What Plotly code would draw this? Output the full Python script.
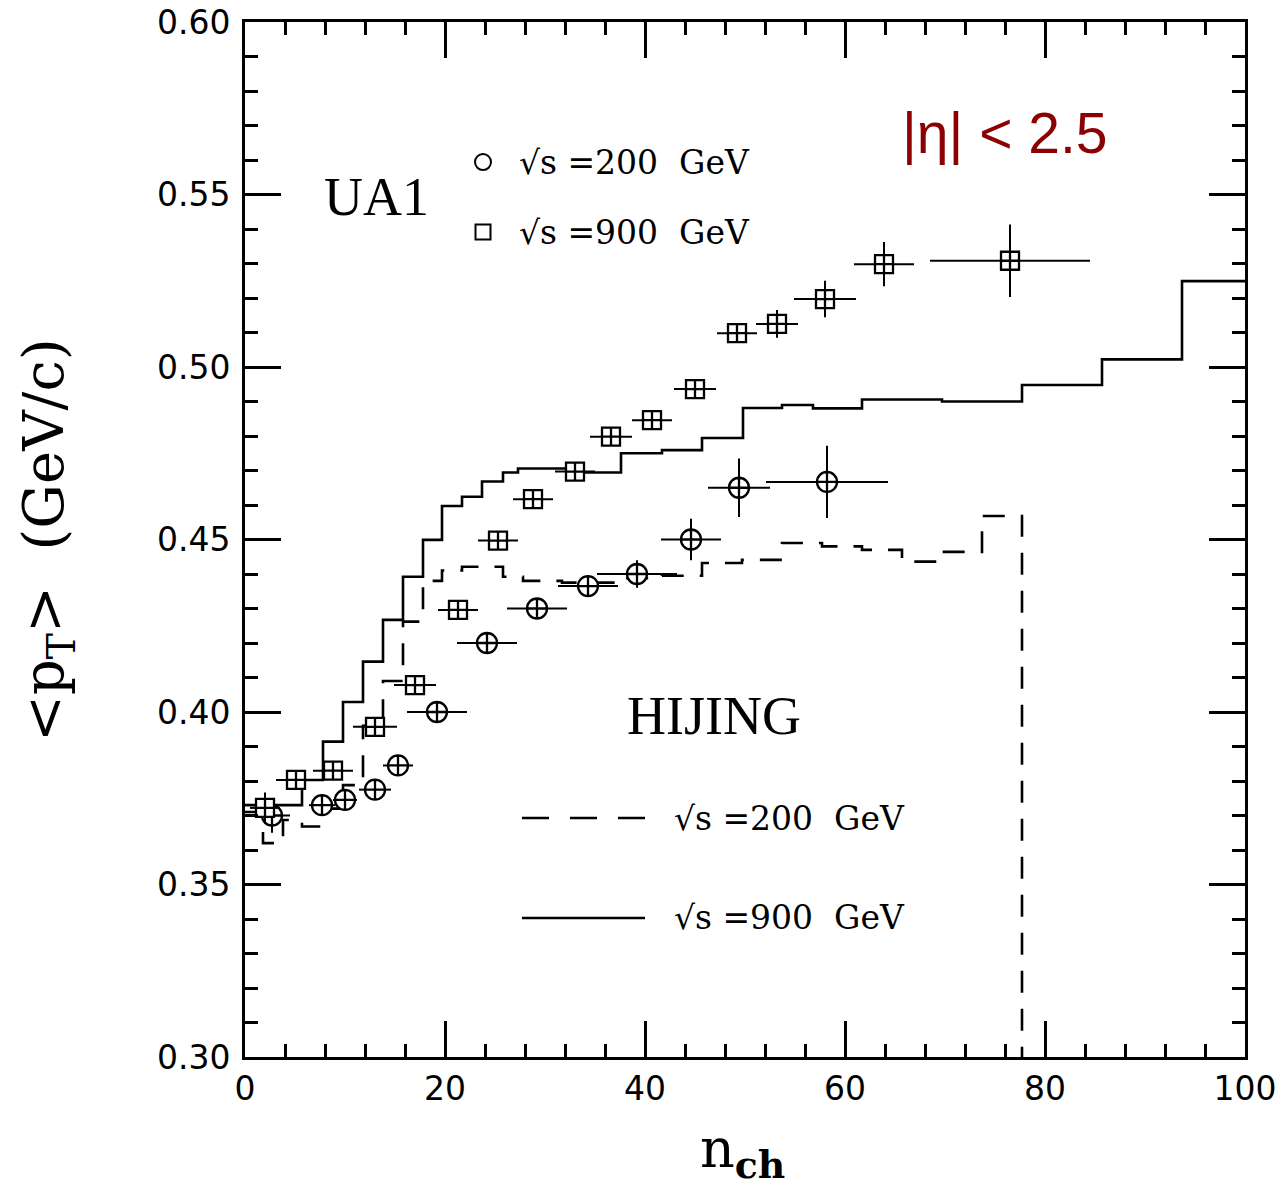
import plotly.graph_objects as go

# ---------------- data ----------------
# UA1, sqrt(s)=200 GeV (open circles)
ua1_200_n = [2.7, 7.7, 10.0, 13.0, 15.3, 19.2, 24.2, 29.2, 34.3, 39.2, 44.6, 49.4, 58.2]
ua1_200_pt = [0.370, 0.373, 0.3745, 0.3775, 0.3845, 0.400, 0.420, 0.430, 0.4365, 0.440, 0.450, 0.465, 0.4667]
ua1_200_nerr = [1.8, 1.3, 1.2, 1.6, 1.5, 3.0, 3.0, 3.0, 3.0, 4.0, 3.0, 3.1, 6.1]
ua1_200_pterr = [0.005, 0.002, 0.002, 0.002, 0.002, 0.002, 0.002, 0.002, 0.003, 0.004, 0.006, 0.0085, 0.0105]

# UA1, sqrt(s)=900 GeV (open squares)
ua1_900_n = [2.0, 5.1, 8.8, 13.0, 17.0, 21.3, 25.3, 28.8, 33.0, 36.6, 40.7, 45.0, 49.2, 53.2, 58.0, 63.9, 76.5]
ua1_900_pt = [0.3722, 0.3803, 0.3830, 0.3957, 0.4078, 0.4296, 0.4497, 0.4617, 0.4697, 0.4798, 0.4846,
              0.4936, 0.5098, 0.5125, 0.5197, 0.5298, 0.5308]
ua1_900_nerr = [1.5, 2.0, 2.0, 2.2, 2.1, 2.0, 2.0, 2.0, 2.0, 2.1, 2.0, 2.1, 2.0, 2.1, 3.1, 3.0, 8.0]
ua1_900_pterr = [0.0045, 0.002, 0.002, 0.002, 0.002, 0.002, 0.002, 0.002, 0.002, 0.002, 0.002,
                 0.002, 0.002, 0.004, 0.0053, 0.0064, 0.0105]

# HIJING histograms (bin edges and bin values)
hij_200_edges = [0, 1.8, 3.8, 5.7, 7.8, 9.8, 11.8, 13.8, 15.8, 17.8, 19.7, 21.7, 25.8, 27.8, 31.7,
                 37.7, 41.7, 45.7, 49.7, 53.7, 57.7, 61.7, 65.7, 69.7, 73.7, 77.7]
hij_200_vals = [0.371, 0.362, 0.3687, 0.3668, 0.372, 0.3788, 0.396, 0.409, 0.4262, 0.438, 0.441,
                0.4421, 0.4392, 0.438, 0.4375, 0.4388, 0.4395, 0.4432, 0.4441, 0.449, 0.448, 0.447,
                0.4436, 0.4464, 0.4568]

hij_900_edges = [0, 5.7, 7.8, 9.8, 11.8, 13.8, 15.8, 17.8, 19.7, 21.7, 23.7, 25.8, 27.3, 33.7, 37.6,
                 41.7, 45.7, 49.8, 53.7, 56.8, 61.7, 69.7, 77.7, 85.7, 93.7, 100]
hij_900_vals = [0.373, 0.3803, 0.3914, 0.4029, 0.4146, 0.4267, 0.4392, 0.4499, 0.4597, 0.4624,
                0.4668, 0.4694, 0.4706, 0.4694, 0.4750, 0.4759, 0.4794, 0.4881, 0.4890, 0.4880,
                0.4906, 0.4900, 0.4948, 0.5022, 0.5249]

x_range = [0, 100]
y_range = [0.30, 0.60]
x_ticks = [0, 20, 40, 60, 80, 100]
y_ticks = [0.30, 0.35, 0.40, 0.45, 0.50, 0.55, 0.60]

# ---------------- figure ----------------
fig = go.Figure()

# HIJING 200 GeV dashed histogram (drops to the axis floor at the last edge)
fig.add_trace(go.Scatter(
    x=hij_200_edges, y=hij_200_vals + [y_range[0]],
    mode="lines", line=dict(shape="hv", color="black", width=2.6, dash="22px,16px"),
    showlegend=False, hoverinfo="skip"))

# HIJING 900 GeV solid histogram
fig.add_trace(go.Scatter(
    x=hij_900_edges, y=hij_900_vals + [hij_900_vals[-1]],
    mode="lines", line=dict(shape="hv", color="black", width=2.6),
    showlegend=False, hoverinfo="skip"))

err_style = dict(type="data", color="black", thickness=2, width=0)

fig.add_trace(go.Scatter(
    x=ua1_200_n, y=ua1_200_pt, mode="markers",
    error_x=dict(array=ua1_200_nerr, **err_style),
    error_y=dict(array=ua1_200_pterr, **err_style),
    marker=dict(symbol="circle-cross", size=20, color="white",
                line=dict(color="black", width=2.3)),
    showlegend=False))

fig.add_trace(go.Scatter(
    x=ua1_900_n, y=ua1_900_pt, mode="markers",
    error_x=dict(array=ua1_900_nerr, **err_style),
    error_y=dict(array=ua1_900_pterr, **err_style),
    marker=dict(symbol="square-cross", size=18, color="white",
                line=dict(color="black", width=2.3)),
    showlegend=False))

tickfont = dict(family="DejaVu Sans", size=33, color="black")
axis_common = dict(
    showline=True, linecolor="black", linewidth=3, mirror="allticks",
    ticks="inside", ticklen=36, tickwidth=2.5, tickcolor="black",
    showgrid=False, zeroline=False, tickfont=tickfont, automargin=False,
)

fig.update_xaxes(range=x_range, tickvals=x_ticks, ticklabelstandoff=0,
                 minor=dict(dtick=4, ticks="inside", ticklen=13, tickwidth=2.5, tickcolor="black"),
                 **axis_common)
fig.update_yaxes(range=y_range, tickvals=y_ticks, tickformat=".2f", ticklabelstandoff=5,
                 minor=dict(dtick=0.01, ticks="inside", ticklen=13, tickwidth=2.5, tickcolor="black"),
                 **axis_common)

serif = "DejaVu Serif"
times = "Liberation Serif"

annotations = [
    dict(x=0.131, y=0.831, text="UA1", font=dict(family=times, size=54, color="black")),
    dict(x=0.469, y=0.3295, text="HIJING", font=dict(family=times, size=54, color="black")),
    dict(x=0.272, y=0.8647, text="√s =200  GeV", xanchor="left",
         font=dict(family=serif, size=33, color="black")),
    dict(x=0.272, y=0.797, text="√s =900  GeV", xanchor="left",
         font=dict(family=serif, size=33, color="black")),
    dict(x=0.427, y=0.2309, text="√s =200  GeV", xanchor="left",
         font=dict(family=serif, size=33, color="black")),
    dict(x=0.427, y=0.1343, text="√s =900  GeV", xanchor="left",
         font=dict(family=serif, size=33, color="black")),
    dict(x=0.655, y=0.8928, text="|η| &lt; 2.5", xanchor="left",
         font=dict(family="Liberation Sans", size=57, color="#8B0000")),
    dict(x=-0.198, y=0.4995, text="&lt;p<sub>T</sub>&gt;  (GeV/c)", textangle=-90,
         font=dict(family=serif, size=56, color="black")),
    dict(x=0.497, y=-0.092, text="n<sub><b>ch</b></sub>", yanchor="middle",
         font=dict(family=serif, size=54, color="black")),
]
for a in annotations:
    a.setdefault("xref", "paper")
    a.setdefault("yref", "paper")
    a.setdefault("showarrow", False)
    a.setdefault("xanchor", "center")
    a.setdefault("yanchor", "middle")

shapes = [
    # UA1 legend symbols
    dict(type="circle", xref="paper", yref="paper", xsizemode="pixel", ysizemode="pixel",
         xanchor=0.238, yanchor=0.8647, x0=-8, x1=8, y0=-8, y1=8,
         line=dict(color="black", width=2)),
    dict(type="rect", xref="paper", yref="paper", xsizemode="pixel", ysizemode="pixel",
         xanchor=0.238, yanchor=0.797, x0=-7.5, x1=7.5, y0=-7.5, y1=7.5,
         line=dict(color="black", width=2)),
    # HIJING legend lines
    dict(type="line", xref="paper", yref="paper", x0=0.277, x1=0.400, y0=0.2309, y1=0.2309,
         line=dict(color="black", width=2.6, dash="27px,21px")),
    dict(type="line", xref="paper", yref="paper", x0=0.277, x1=0.400, y0=0.1343, y1=0.1343,
         line=dict(color="black", width=2.6)),
]

fig.update_layout(
    width=1281, height=1187,
    margin=dict(l=245, r=36, t=22, b=130, autoexpand=False),
    paper_bgcolor="white", plot_bgcolor="white",
    annotations=annotations, shapes=shapes,
    showlegend=False,
)

fig.write_html("out.html")
